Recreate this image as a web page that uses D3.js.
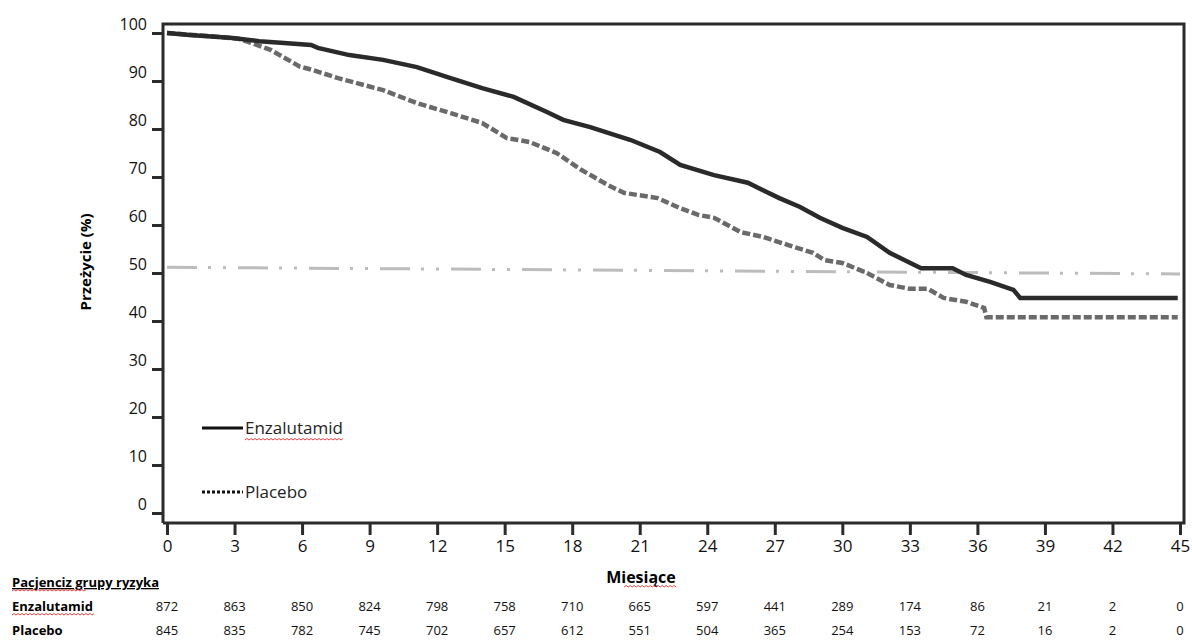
<!DOCTYPE html>
<meta charset="utf-8">
<script src="https://d3js.org/d3.v7.min.js"></script>
<style>
  body { margin: 0; background: #fff; }
  text { font-family: "Open Sans", "Noto Sans", sans-serif; }
</style>
<div id="km"></div>
<script>

// tick values
var monthTicks = [0, 3, 6, 9, 12, 15, 18, 21, 24, 27, 30, 33, 36, 39, 42, 45];
var survTicks = [0, 10, 20, 30, 40, 50, 60, 70, 80, 90, 100];

// Kaplan-Meier curves (months, survival %)
var enzaT = [0, 1.0, 1.8, 2.8, 4.1, 5.2, 6.4, 6.7, 8.1, 9.6, 11.1, 12.6, 14.0, 15.4, 16.9, 17.6, 18.8, 20.6, 21.9, 22.8, 24.3, 25.8, 27.2, 28.1, 29.0, 30.0, 31.1, 32.1, 33.5, 34.9, 35.5, 36.6, 37.6, 37.9, 44.9];
var enzaS = [100, 99.6, 99.3, 99, 98.3, 97.9, 97.5, 96.9, 95.4, 94.4, 92.9, 90.6, 88.5, 86.7, 83.5, 81.9, 80.4, 77.7, 75.2, 72.5, 70.4, 68.8, 65.6, 63.8, 61.5, 59.4, 57.5, 54.2, 51, 51, 49.6, 48.1, 46.5, 44.8, 44.8];

var placT = [0, 2.0, 3.2, 3.7, 4.6, 5.9, 6.4, 7.6, 9.6, 11.1, 12.6, 14.0, 15.1, 16.1, 17.3, 18.4, 19.6, 20.3, 21.8, 22.8, 23.6, 24.3, 25.5, 26.5, 27.6, 28.7, 29.2, 30.0, 31.1, 32.1, 33.0, 33.8, 34.5, 35.5, 36.3, 36.4, 44.9];
var placS = [100, 99.3, 98.8, 98.0, 96.5, 93.0, 92.4, 90.6, 88.1, 85.4, 83.3, 81.25, 78.1, 77.3, 75, 71.5, 68.3, 66.7, 65.6, 63.5, 62.1, 61.5, 58.5, 57.5, 55.8, 54.2, 52.7, 52.1, 50, 47.5, 46.7, 46.7, 44.8, 44, 42.7, 40.8, 40.8];

// median reference line (start, end)
var medianT = [0, 45];
var medianS = [51.2, 49.8];

// patients at risk
var riskLabels = ["Enzalutamid", "Placebo"];
var atRiskEnza = [872, 863, 850, 824, 798, 758, 710, 665, 597, 441, 289, 174, 86, 21, 2, 0];
var atRiskPlac = [845, 835, 782, 745, 702, 657, 612, 551, 504, 365, 254, 153, 72, 16, 2, 0];

var W = 1192, H = 641;
var box = {left: 163, top: 24, right: 1184, bottom: 523};

var svg = d3.select("#km").append("svg")
  .attr("width", W)
  .attr("height", H);

var x = d3.scaleLinear().domain([0, 45]).range([167, 1180]);
var y = d3.scaleLinear().domain([0, 100]).range([513, 33]);

// wavy red underline (spell check marks in the original)
function squiggle(x0, x1, yy) {
  var d = "M" + x0 + "," + yy;
  for (var px = x0, up = true; px < x1; px += 2, up = !up) {
    d += "L" + (px + 2) + "," + (yy + (up ? -1.5 : 0));
  }
  svg.append("path").attr("d", d)
    .style("fill", "none").style("stroke", "#e03030").style("stroke-width", 0.9);
}

// median line
svg.append("line")
  .attr("x1", x(medianT[0])).attr("y1", y(medianS[0]))
  .attr("x2", x(medianT[1])).attr("y2", y(medianS[1]))
  .style("stroke", "#bcbcbc")
  .style("stroke-width", 3)
  .style("stroke-dasharray", "30,11,3,12,3,12");

var line = d3.line()
  .x(function(d) { return x(d[0]); })
  .y(function(d) { return y(d[1]); });

svg.append("path")
  .datum(d3.zip(placT, placS))
  .attr("d", line)
  .style("fill", "none")
  .style("stroke", "#6a6a6a")
  .style("stroke-width", 4.5)
  .style("stroke-dasharray", "8,3");

svg.append("path")
  .datum(d3.zip(enzaT, enzaS))
  .attr("d", line)
  .style("fill", "none")
  .style("stroke", "#2a2a2a")
  .style("stroke-width", 4.5);

// frame
svg.append("path")
  .attr("d", "M" + box.left + "," + box.bottom + "V" + box.top + "H" + box.right + "V" + box.bottom + "H" + box.left)
  .style("fill", "none")
  .style("stroke", "#2b2b2b")
  .style("stroke-width", 3);

// y axis
var yAxis = svg.append("g")
  .attr("transform", "translate(" + box.left + ",0)")
  .call(d3.axisLeft(y).tickValues(survTicks).tickSize(11).tickPadding(5));
yAxis.select(".domain").remove();
yAxis.selectAll(".tick line").style("stroke", "#2b2b2b").style("stroke-width", 3);
yAxis.selectAll(".tick text")
  .style("font-size", "16px").style("fill", "#111")
  .attr("dy", "-0.2em");

// x axis
var xAxis = svg.append("g")
  .attr("transform", "translate(0," + box.bottom + ")")
  .call(d3.axisBottom(x).tickValues(monthTicks).tickSize(12).tickPadding(5));
xAxis.select(".domain").remove();
xAxis.selectAll(".tick line").style("stroke", "#2b2b2b").style("stroke-width", 3);
xAxis.selectAll(".tick text")
  .style("font-size", "17px").style("fill", "#111");

// axis titles
svg.append("text")
  .attr("transform", "translate(91,262) rotate(-90)")
  .attr("text-anchor", "middle")
  .style("font-size", "15px").style("font-weight", "bold")
  .text("Przeżycie (%)");

var mies = svg.append("text")
  .attr("x", 641).attr("y", 583)
  .attr("text-anchor", "middle")
  .style("font-size", "16px").style("font-weight", "bold")
  .text("Miesiące");
var mw = mies.node().getComputedTextLength();
squiggle(641 - mw / 2 + 18, 641 + mw / 2, 587);

// legend
svg.append("line")
  .attr("x1", 202).attr("x2", 243).attr("y1", 428).attr("y2", 428)
  .style("stroke", "#111").style("stroke-width", 3);
var lg1 = svg.append("text")
  .attr("x", 245).attr("y", 434)
  .style("font-size", "17px").style("fill", "#222")
  .text(riskLabels[0]);
squiggle(245, 245 + lg1.node().getComputedTextLength(), 440);

svg.append("line")
  .attr("x1", 202).attr("x2", 243).attr("y1", 492).attr("y2", 492)
  .style("stroke", "#111").style("stroke-width", 3)
  .style("stroke-dasharray", "3,2");
svg.append("text")
  .attr("x", 245).attr("y", 498)
  .style("font-size", "17px").style("fill", "#222")
  .text(riskLabels[1]);

// at risk table
var head = svg.append("text")
  .attr("x", 12).attr("y", 587)
  .style("font-size", "13px").style("font-weight", "bold")
  .style("text-decoration", "underline")
  .text("Pacjenciz grupy ryzyka");
squiggle(12, 85, 591);

var rows = [atRiskEnza, atRiskPlac];
var rowY = [611, 635];
rows.forEach(function(vals, i) {
  var lab = svg.append("text")
    .attr("x", 12).attr("y", rowY[i])
    .style("font-size", "13px").style("font-weight", "bold")
    .text(riskLabels[i]);
  if (i === 0) squiggle(12, 12 + lab.node().getComputedTextLength(), rowY[i] + 4);

  svg.selectAll(".risk" + i)
    .data(vals)
    .enter()
    .append("text")
    .attr("class", "risk" + i)
    .attr("x", function(d, j) { return x(monthTicks[j]); })
    .attr("y", rowY[i])
    .attr("text-anchor", "middle")
    .style("font-size", "13px").style("fill", "#111")
    .text(function(d) { return d; });
});

</script>
